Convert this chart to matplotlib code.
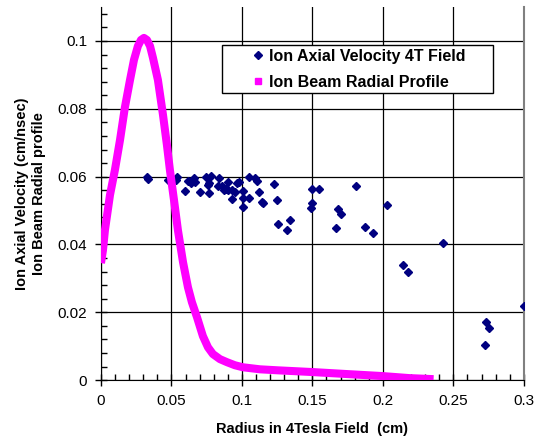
import matplotlib
matplotlib.use('Agg')
import matplotlib.pyplot as plt
from matplotlib.ticker import MultipleLocator
from matplotlib.patches import Rectangle

plt.rcParams['font.family'] = ['Liberation Sans', 'DejaVu Sans']

# ion axial velocity points (radius cm, velocity cm/nsec)
vel_r = [0.0324, 0.0331, 0.0477, 0.054, 0.053, 0.062, 0.0636, 0.066, 0.067, 0.0596,
         0.0702, 0.0745, 0.078, 0.076, 0.0768, 0.0766, 0.0837, 0.0832, 0.086, 0.0903,
         0.0887, 0.0872, 0.0899, 0.0927, 0.095, 0.0929, 0.0967, 0.098, 0.1005, 0.1005,
         0.1009, 0.105, 0.1052, 0.1094, 0.1104, 0.1118, 0.1144, 0.1151, 0.1227, 0.125,
         0.1258, 0.1338, 0.1321, 0.1499, 0.1546, 0.1494, 0.1487, 0.1809, 0.1679, 0.170,
         0.1665, 0.1872, 0.1929, 0.2028, 0.2142, 0.2177, 0.2426, 0.2998, 0.2733, 0.2754,
         0.2726]
vel_v = [0.0600, 0.0592, 0.0590, 0.0600, 0.0590, 0.0588, 0.0582, 0.0595, 0.0585, 0.0558,
         0.0554, 0.0600, 0.0602, 0.0575, 0.0582, 0.0551, 0.0595, 0.0572, 0.0572, 0.0585,
         0.0565, 0.0560, 0.0562, 0.0560, 0.0554, 0.0533, 0.0582, 0.0585, 0.0558, 0.0536,
         0.0511, 0.0538, 0.0600, 0.0595, 0.0588, 0.0556, 0.0526, 0.0521, 0.0577, 0.0531,
         0.0459, 0.0472, 0.0442, 0.0565, 0.0565, 0.0521, 0.0509, 0.0571, 0.0506, 0.0490,
         0.0448, 0.0451, 0.0435, 0.0516, 0.0340, 0.0320, 0.0404, 0.0220, 0.0171, 0.0154,
         0.0104]

# beam radial profile
prof_r = [0.0, 0.0014, 0.0028, 0.0064, 0.0099, 0.0135, 0.017, 0.0206, 0.0234, 0.0262,
          0.0284, 0.0305, 0.0326, 0.0348, 0.0369, 0.0404, 0.044, 0.0468, 0.0489, 0.0518,
          0.0546, 0.0582, 0.0617, 0.0645, 0.0681, 0.0723, 0.0759, 0.0794, 0.0844, 0.0894,
          0.095, 0.1007, 0.1128, 0.1255, 0.1496, 0.1745, 0.2, 0.219, 0.236]
prof_v = [0.0345, 0.0383, 0.0442, 0.0546, 0.062, 0.0708, 0.0805, 0.0885, 0.0944, 0.0985,
          0.1003, 0.1009, 0.1003, 0.0985, 0.095, 0.0885, 0.0782, 0.0693, 0.062, 0.0531,
          0.0442, 0.0348, 0.0274, 0.023, 0.0186, 0.013, 0.0097, 0.0077, 0.0062, 0.0053,
          0.0044, 0.0038, 0.0032, 0.0029, 0.0024, 0.0018, 0.0012, 0.0006, 0.0003]

fig = plt.figure(figsize=(5.4, 4.4), dpi=100)
ax = fig.add_axes([0.187, 0.136, 0.783, 0.848])

ax.plot(vel_r, vel_v, linestyle='none', marker='D', markersize=4.5,
        color='#000080', label='Ion Axial Velocity 4T Field', zorder=3)
ax.plot(prof_r, prof_v, color='#FF00FF', linewidth=5.8, solid_capstyle='butt',
        solid_joinstyle='round', label='Ion Beam Radial Profile', zorder=4)

ax.set_xlim(0, 0.3)
ax.set_ylim(0, 0.11)
ax.set_xticks([0, 0.05, 0.1, 0.15, 0.2, 0.25, 0.3])
ax.set_xticklabels(['0', '0.05', '0.1', '0.15', '0.2', '0.25', '0.3'])
ax.set_yticks([0, 0.02, 0.04, 0.06, 0.08, 0.1])
ax.set_yticklabels(['0', '0.02', '0.04', '0.06', '0.08', '0.1'])
ax.xaxis.set_minor_locator(MultipleLocator(0.01))
ax.yaxis.set_minor_locator(MultipleLocator(0.004))
ax.tick_params(which='major', direction='inout', length=8, width=1, labelsize=11, pad=6)
ax.tick_params(which='minor', direction='in', length=4, width=1)
ax.grid(True, which='major', color='black', linewidth=0.9)

ax.spines['top'].set_visible(False)
ax.spines['right'].set_color('#808080')
ax.spines['right'].set_linewidth(1.5)

ax.set_xlabel('Radius in 4Tesla Field  (cm)', fontsize=10.5, fontweight='bold', labelpad=10)
ax.set_ylabel('Ion Axial Velocity (cm/nsec)\nIon Beam Radial profile', fontsize=10.5,
              fontweight='bold', labelpad=8, linespacing=1.3)

# legend box drawn separately so the padding matches
ax.add_patch(Rectangle((0.286, 0.769), 0.641, 0.129, transform=ax.transAxes,
                       facecolor='white', edgecolor='black', linewidth=1.0, zorder=5))
leg = ax.legend(loc='center left', bbox_to_anchor=(0.356, 0.833), borderaxespad=0,
                borderpad=0, frameon=False, prop={'weight': 'bold', 'size': 11.5},
                handlelength=0.8, labelspacing=0.7, handletextpad=0.3)
leg.set_zorder(6)
leg.legend_handles[1].set_linestyle('none')
leg.legend_handles[1].set_marker('s')
leg.legend_handles[1].set_markersize(5)
leg.legend_handles[1].set_markerfacecolor('#FF00FF')
leg.legend_handles[1].set_markeredgecolor('#FF00FF')
leg.legend_handles[0].set_markersize(4)

fig.savefig('out.png', dpi=100)
